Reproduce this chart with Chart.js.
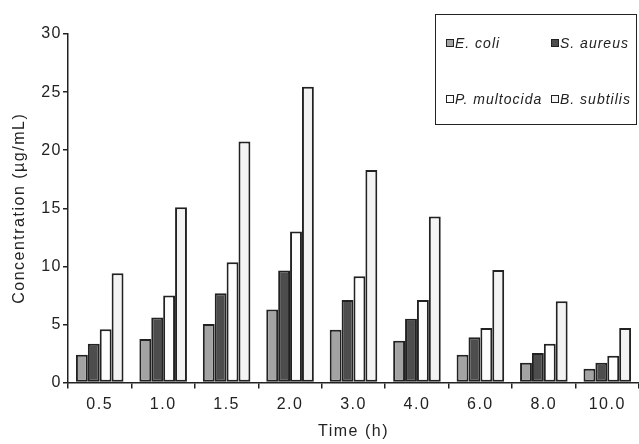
<!DOCTYPE html>
<html>
<head>
<meta charset="utf-8">
<script src="https://cdn.jsdelivr.net/npm/chart.js@4/dist/chart.umd.min.js"></script>
<style>
    html, body { margin: 0; padding: 0; background: #fff; }
    #wrap { position: relative; width: 639px; height: 444px; }
    #legenda {
        position: absolute; left: 435px; top: 14px; width: 202px; height: 111px;
        border: 1.5px solid #222; box-sizing: border-box;
        font: italic 14px "Liberation Sans", Arial, sans-serif; letter-spacing: 1px; color: #222;
    }
    .item { position: absolute; white-space: nowrap; line-height: 16px; }
    .caixa { display: inline-block; width: 6px; height: 6px; border: 1px solid #222; margin-right: 1px; vertical-align: 1px; }
</style>
</head>
<body>
<div id="wrap">
    <canvas id="grafico" width="639" height="444"></canvas>
    <div id="legenda"></div>
</div>
<script>
const tempos = ['0.5', '1.0', '1.5', '2.0', '3.0', '4.0', '6.0', '8.0', '10.0'];
const especies = ['E. coli', 'S. aureus', 'P. multocida', 'B. subtilis'];
const eColi = [2.4, 3.75, 5.05, 6.3, 4.55, 3.6, 2.4, 1.7, 1.2];
const sAureus = [3.35, 5.6, 7.7, 9.65, 7.1, 5.5, 3.9, 2.55, 1.7];
const pMultocida = [4.6, 7.5, 10.35, 13.0, 9.15, 7.1, 4.7, 3.35, 2.3];
const bSubtilis = [9.4, 15.1, 20.75, 25.45, 18.3, 14.3, 9.7, 7.0, 4.7];
const cores = ['#a3a3a3', '#4d4d4d', '#fdfdfd', '#f3f3f3'];

Chart.defaults.font.family = '"Liberation Sans", Arial, sans-serif';
Chart.defaults.color = '#222';

// espaçamento entre letras como na figura original
const espacamento = {
    id: 'espacamento',
    beforeLayout(chart) { chart.ctx.letterSpacing = '1.5px'; },
    beforeDraw(chart) { chart.ctx.letterSpacing = '1.5px'; }
};

let series = [eColi, sAureus, pMultocida, bSubtilis];

var chart = new Chart(document.getElementById('grafico'), {
    type: 'bar',
    data: {
        labels: tempos,
        datasets: series.map((dados, i) => ({
            label: especies[i],
            data: dados,
            backgroundColor: cores[i],
            borderColor: '#222',
            borderWidth: 2,
            borderSkipped: false,
            categoryPercentage: 0.75,
            barPercentage: 1.0
        }))
    },
    options: {
        responsive: false,
        animation: false,
        layout: { padding: { top: 34, right: 0, left: 10, bottom: 3 } },
        plugins: { legend: { display: false }, tooltip: { enabled: false } },
        scales: {
            x: {
                grid: { offset: true, drawOnChartArea: false, tickLength: 6, color: '#222', lineWidth: 1.5 },
                border: { color: '#222', width: 1.5 },
                ticks: { font: { size: 16 }, padding: 6 },
                title: { display: true, text: 'Time (h)', font: { size: 16 }, padding: { top: 2, bottom: 0 } }
            },
            y: {
                min: 0,
                max: 30,
                ticks: { stepSize: 5, font: { size: 16 }, padding: 1 },
                grid: { drawOnChartArea: false, tickLength: 5, color: '#222', lineWidth: 1.5 },
                border: { color: '#222', width: 1.5 },
                title: { display: true, text: 'Concentration (µg/mL)', font: { size: 16 }, padding: { top: 0, bottom: 11 } }
            }
        }
    },
    plugins: [espacamento]
});

// legenda em duas colunas dentro da caixa
let posicoes = [[10, 20], [115, 20], [10, 76], [115, 76]];
let legenda = document.getElementById('legenda');
chart.data.datasets.forEach((ds, i) => {
    let item = document.createElement('div');
    item.className = 'item';
    item.style.left = posicoes[i][0] + 'px';
    item.style.top = posicoes[i][1] + 'px';
    item.innerHTML = '<span class="caixa" style="background:' + ds.backgroundColor + '"></span>' + ds.label;
    legenda.appendChild(item);
});
</script>
</body>
</html>
